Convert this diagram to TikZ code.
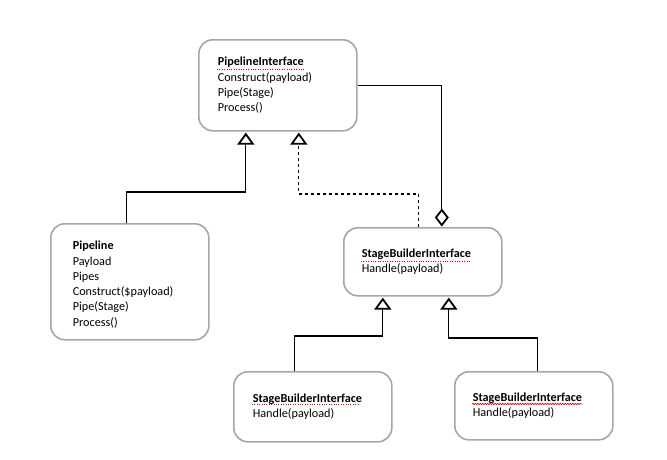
\documentclass[tikz,border=0pt]{standalone}
\usepackage{fontspec}
\setmainfont{Carlito}
\usetikzlibrary{arrows.meta,decorations.pathmorphing}
\begin{document}
\begin{tikzpicture}[x=1pt,y=-1pt,
  cls/.style={draw=black!35,line width=1.6pt,rounded corners=14pt,anchor=north west,
    align=left,inner ysep=0pt,font=\fontsize{12.2}{15.3}\selectfont,text=black},
  gen/.style={line width=1.2pt,-{Triangle[open,length=12pt,width=17pt,line width=1.8pt]},shorten >=1pt},
  agg/.style={line width=1.2pt,-{Diamond[open,length=18pt,width=14pt,line width=1.8pt]},shorten >=0.5pt},
  spell/.style={red!85!black,line width=0.8pt,dash pattern=on 0.8pt off 1.6pt},
  spellw/.style={red!85!black,line width=0.6pt,decorate,decoration={snake,amplitude=0.7pt,segment length=2.5pt}}]
\useasboundingbox (0,0) rectangle (667,459);

\node[cls,inner xsep=19pt,text width=120pt,minimum height=91pt] (pi) at (198,39)
  {\textbf{PipelineInterface}\\Construct(payload)\\Pipe(Stage)\\Process()};
\node[cls,inner xsep=22pt,text width=114pt,minimum height=116pt] (pl) at (50,223)
  {\rule{0pt}{14pt}\textbf{Pipeline}\\Payload\\Pipes\\Construct(\$payload)\\Pipe(Stage)\\Process()};
\node[cls,inner xsep=18pt,text width=122pt,minimum height=68pt] (sbi) at (343,227)
  {\textbf{StageBuilderInterface}\\Handle(payload)};
\node[cls,inner xsep=19pt,text width=120pt,minimum height=70pt] (bl) at (233,371)
  {\textbf{StageBuilderInterface}\\Handle(payload)};
\node[cls,inner xsep=18pt,text width=122pt,minimum height=68pt] (br) at (454,371)
  {\textbf{StageBuilderInterface}\\Handle(payload)};

% spelling underlines
\draw[spell] ([xshift=19pt,yshift=-30pt]pi.north west) -- ++(87,0);
\draw[spell] ([xshift=18pt,yshift=-34pt]sbi.north west) -- ++(110,0);
\draw[spell] ([xshift=19pt,yshift=-33pt]bl.north west) -- ++(108,0);
\draw[spellw] ([xshift=18pt,yshift=-33pt]br.north west) -- ++(110,0);

% connectors
\draw[gen] ([xshift=-3pt]pl.north) -- ++(0,-31) -| ([xshift=-32pt]pi.south);
\draw[gen,dashed] ([xshift=-4pt]sbi.north) -- ++(0,-33) -| ([xshift=21pt]pi.south);
\draw[agg] (pi.east) -| ([xshift=19pt]sbi.north);
\draw[gen] ([xshift=-18pt]bl.north) -- ++(0,-35) -| ([xshift=-40pt]sbi.south);
\draw[gen] ([xshift=4pt]br.north) -- ++(0,-33) -| ([xshift=26pt]sbi.south);
\end{tikzpicture}
\end{document}
